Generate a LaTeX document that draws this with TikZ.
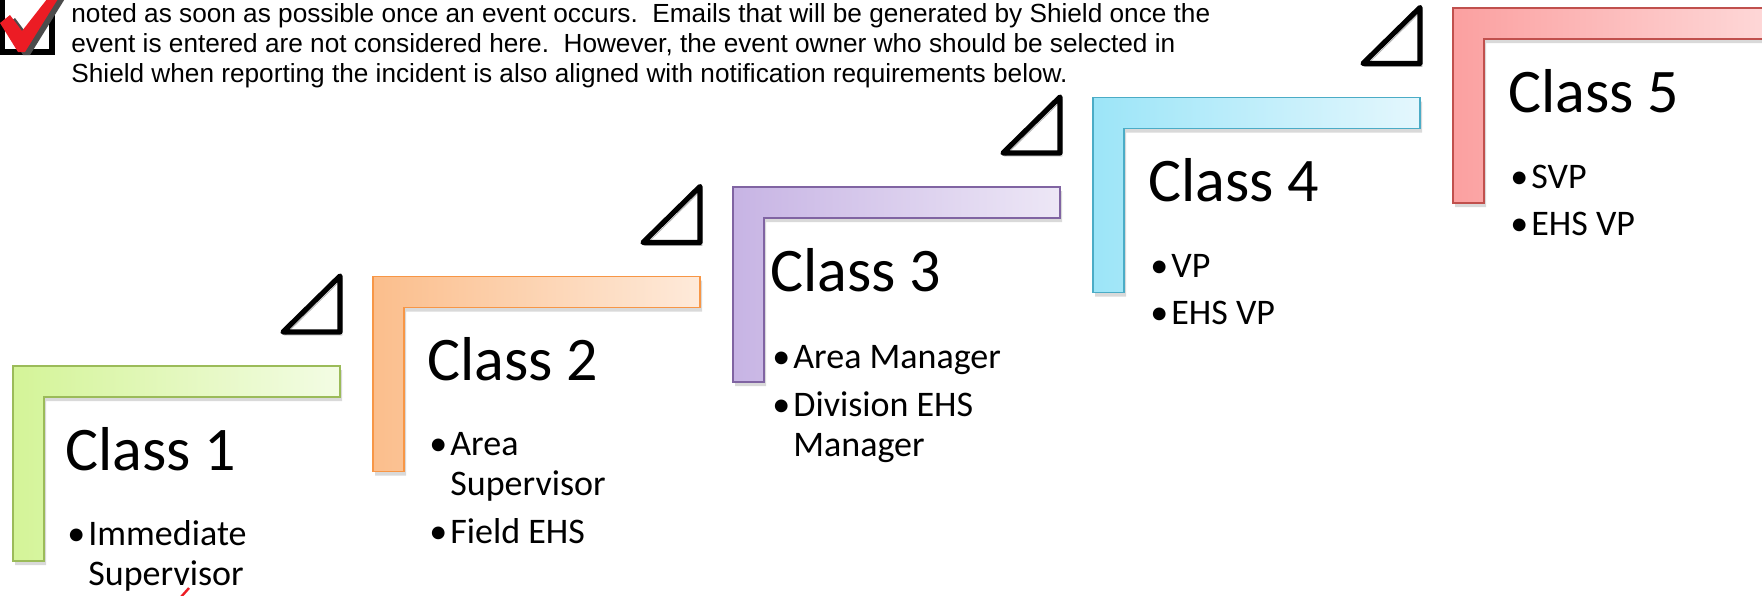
\documentclass[tikz,border=0pt]{standalone}
\usepackage{fontspec}
\setmainfont{Carlito}
\newfontfamily\notefont{Liberation Sans}
\usetikzlibrary{shadows}

\definecolor{grnL}{RGB}{212,244,152}
\definecolor{grnR}{RGB}{243,252,228}
\definecolor{grnB}{RGB}{155,187,89}
\definecolor{orgL}{RGB}{251,190,140}
\definecolor{orgR}{RGB}{254,234,218}
\definecolor{orgB}{RGB}{247,150,70}
\definecolor{purL}{RGB}{199,180,228}
\definecolor{purR}{RGB}{237,231,246}
\definecolor{purB}{RGB}{128,100,162}
\definecolor{cyaL}{RGB}{156,229,248}
\definecolor{cyaR}{RGB}{228,247,253}
\definecolor{cyaB}{RGB}{75,172,198}
\definecolor{redL}{RGB}{251,160,160}
\definecolor{redR}{RGB}{254,218,218}
\definecolor{redB}{RGB}{192,80,77}
\definecolor{tick}{RGB}{236,28,36}

\newcommand\bul[1]{\makebox[10.5pt][l]{\textbullet}#1}

\begin{document}
\begin{tikzpicture}[x=0.5pt,y=-0.5pt,
	every node/.style={inner sep=0pt,anchor=base west},
	head/.style={font=\fontsize{31}{37}\selectfont},
	item/.style={font=\fontsize{18}{20}\selectfont},
	note/.style={font=\notefont\fontsize{13.1}{15}\selectfont},
	stair/.style={line width=0.8pt,drop shadow={shadow xshift=1pt,shadow yshift=-2pt,opacity=.3}},
	wedge/.style={line width=2.6pt,line join=round,
		preaction={draw=black!30,transform canvas={xshift=1pt,yshift=-1.5pt}}}]
\useasboundingbox (0,0) rectangle (1762,595);
\clip (0,0) rectangle (1762,595);

% check box in the corner
\draw[line width=2.6pt] (2,-20) rectangle (52,52);
\fill[black!70] (5,26) -- (15,18) -- (27,34) -- (56,-3) -- (66,-3) -- (30,55) -- (23,55) -- cycle;
\fill[tick] (0,23) -- (10,15) -- (22,31) -- (51,-6) -- (61,-6) -- (25,52) -- (18,52) -- cycle;
\draw[tick,line width=1.2pt] (181,597) -- (189,588);

% note text
\node[note] (note1) at (71,22) {noted as soon as possible once an event occurs.\ \ Emails that will be generated by Shield once the};
\node[note] (note2) at (71,52) {event is entered are not considered here.\ \ However, the event owner who should be selected in};
\node[note] (note3) at (71,82) {Shield when reporting the incident is also aligned with notification requirements below.};

% steps
\draw[stair,draw=grnB,left color=grnL,right color=grnR] (13,366) -- ++(327,0) -- ++(0,31) -- ++(-296,0) -- ++(0,164) -- ++(-31,0) -- cycle;
\draw[stair,draw=orgB,left color=orgL,right color=orgR] (373,276.5) -- ++(327,0) -- ++(0,31) -- ++(-296,0) -- ++(0,164) -- ++(-31,0) -- cycle;
\draw[stair,draw=purB,left color=purL,right color=purR] (733,187) -- ++(327,0) -- ++(0,31) -- ++(-296,0) -- ++(0,164) -- ++(-31,0) -- cycle;
\draw[stair,draw=cyaB,left color=cyaL,right color=cyaR] (1093,97.5) -- ++(327,0) -- ++(0,31) -- ++(-296,0) -- ++(0,164) -- ++(-31,0) -- cycle;
\draw[stair,draw=redB,left color=redL,right color=redR] (1453,8) -- ++(327,0) -- ++(0,31) -- ++(-296,0) -- ++(0,164) -- ++(-31,0) -- cycle;

% triangles over the step ends
\draw[wedge] (283,332) -- (340,276) -- (340,332) -- cycle;
\draw[wedge] (643,242.5) -- (700,186.5) -- (700,242.5) -- cycle;
\draw[wedge] (1003,153) -- (1060,97) -- (1060,153) -- cycle;
\draw[wedge] (1363,63.5) -- (1420,7.5) -- (1420,63.5) -- cycle;

% class 1
\node[head] (head1) at (65,470) {Class 1};
\node[item] (c1a) at (67,545) {\bul{Immediate}};
\node[item] (c1b) at (88,585) {Supervisor};

% class 2
\node[head] (head2) at (427,380) {Class 2};
\node[item] (c2a) at (429,455) {\bul{Area}};
\node[item] (c2b) at (450,495) {Supervisor};
\node[item] (c2c) at (429,543) {\bul{Field EHS}};

% class 3
\node[head] (head3) at (770,291) {Class 3};
\node[item] (c3a) at (772,368) {\bul{Area Manager}};
\node[item] (c3b) at (772,416) {\bul{Division EHS}};
\node[item] (c3c) at (793,456) {Manager};

% class 4
\node[head] (head4) at (1148,201.5) {Class 4};
\node[item] (c4a) at (1150,277) {\bul{VP}};
\node[item] (c4b) at (1150,324) {\bul{EHS VP}};

% class 5
\node[head] (head5) at (1508,112) {Class 5};
\node[item] (c5a) at (1510,188) {\bul{SVP}};
\node[item] (c5b) at (1510,235) {\bul{EHS VP}};
\end{tikzpicture}
\end{document}
